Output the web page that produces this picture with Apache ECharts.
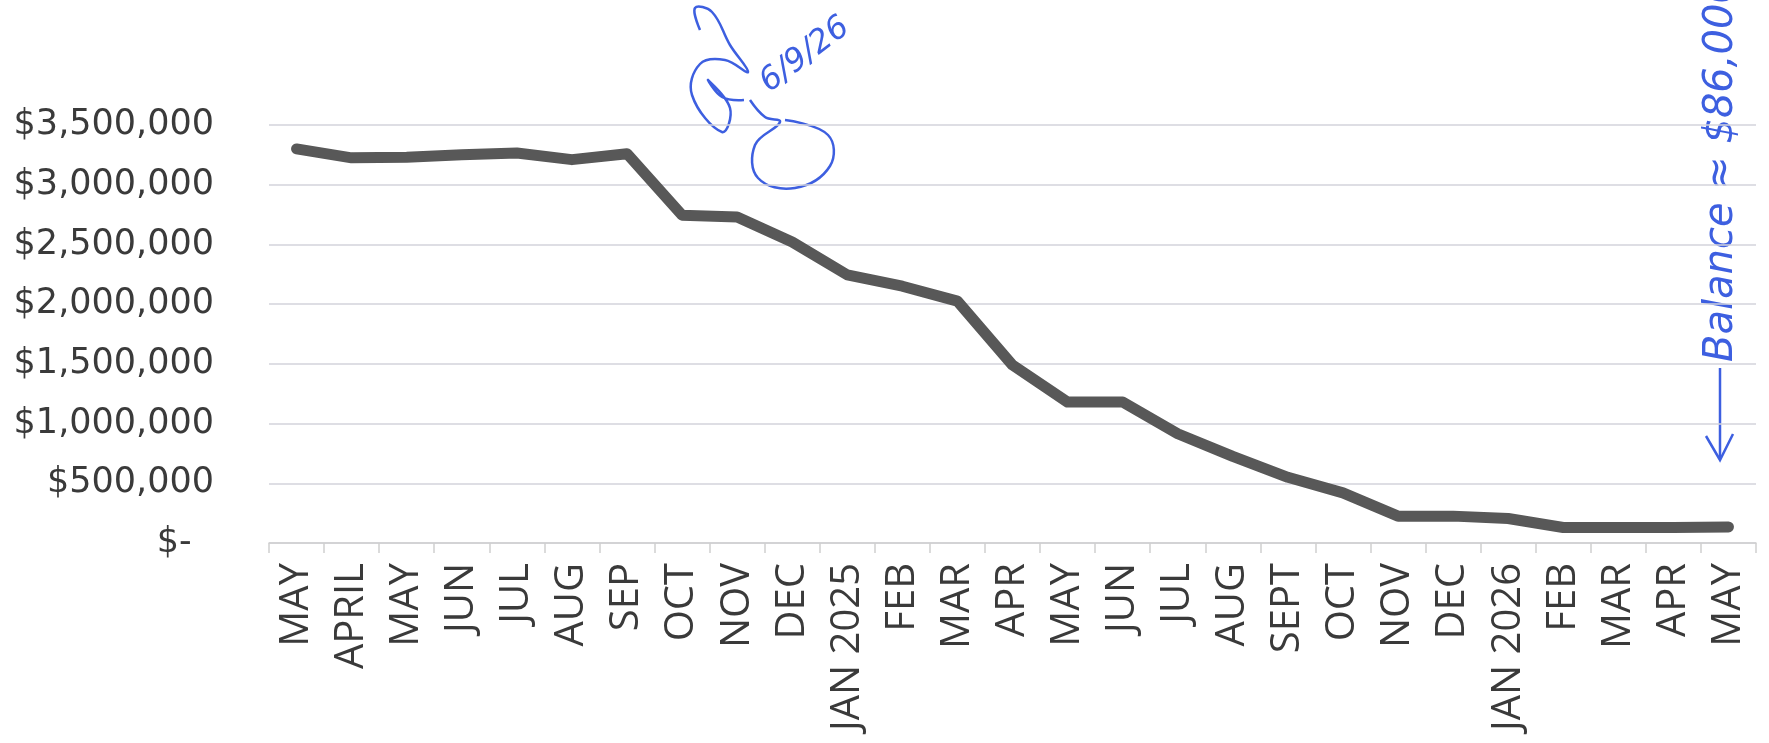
<!DOCTYPE html>
<html>
<head>
<meta charset="utf-8">
<script src="https://cdn.jsdelivr.net/npm/echarts@6/dist/echarts.min.js"></script>
<style>
  html, body { margin: 0; padding: 0; background: #ffffff; }
  #chart { width: 1769px; height: 743px; }
</style>
</head>
<body>
<div id="chart"></div>
<script>
// ---- data ----
const categories = ['MAY', 'APRIL', 'MAY', 'JUN', 'JUL', 'AUG', 'SEP', 'OCT', 'NOV', 'DEC',
  'JAN 2025', 'FEB', 'MAR', 'APR', 'MAY', 'JUN', 'JUL', 'AUG', 'SEPT', 'OCT', 'NOV', 'DEC',
  'JAN 2026', 'FEB', 'MAR', 'APR', 'MAY'];
const balance = [3300000, 3225000, 3230000, 3250000, 3265000, 3210000, 3260000, 2745000, 2730000,
  2520000, 2245000, 2150000, 2025000, 1490000, 1180000, 1180000, 915000, 725000, 550000, 420000,
  225000, 225000, 205000, 130000, 130000, 130000, 135000];
const yTicks = { min: 0, max: 3500000, step: 500000 };
const noteDate = '6/9/26';
const noteBalance = 'Balance ≈ $86,000';

const ink = '#3d5fe0';
const chart = echarts.init(document.getElementById('chart'));
chart.setOption({
  backgroundColor: '#ffffff',
  animation: false,
  grid: { left: 269, right: 13, top: 125, bottom: 200, containLabel: false },
  xAxis: {
    type: 'category',
    data: categories,
    boundaryGap: true,
    axisLine: { show: true, lineStyle: { color: '#d0d0d0', width: 1.5 } },
    axisTick: { show: true, length: 10, lineStyle: { color: '#d0d0d0', width: 1.5 } },
    axisLabel: {
      interval: 0, rotate: 90, margin: 20,
      fontFamily: 'Open Sans', fontSize: 40, color: '#3a3a3a'
    },
    splitLine: { show: false }
  },
  yAxis: {
    type: 'value',
    min: yTicks.min, max: yTicks.max, interval: yTicks.step,
    axisLine: { show: false },
    axisTick: { show: false },
    axisLabel: {
      margin: 55, fontFamily: 'DejaVu Sans', fontSize: 35, color: '#3a3a3a',
      formatter: v => v === 0 ? '$-  ' : '$' + v.toLocaleString('en-US')
    },
    splitLine: { show: true, lineStyle: { color: '#d3d3db', width: 1.5 } }
  },
  series: [{
    type: 'line',
    data: balance,
    symbol: 'none',
    smooth: false,
    lineStyle: { color: '#585858', width: 11, cap: 'round', join: 'round' }
  }],
  graphic: [
    {
      type: 'polyline',
      shape: { smooth: 0.4, points: [[700, 30], [695, 8], [712, 12], [730, 45], [748, 72], [725, 60], [700, 64], [692, 95], [722, 132], [730, 108], [708, 80], [722, 97], [744, 100]] },
      style: { stroke: ink, lineWidth: 2.5, fill: null }
    },
    {
      type: 'polyline',
      shape: { smooth: 0.4, points: [[750, 100], [765, 117], [780, 122], [755, 145], [758, 178], [795, 188], [830, 166], [828, 135], [785, 120]] },
      style: { stroke: ink, lineWidth: 2.5, fill: null }
    },
    {
      type: 'text',
      x: 805, y: 55,
      rotation: 0.65,
      style: { text: noteDate, fill: ink, fontFamily: 'DejaVu Sans', fontStyle: 'italic', fontSize: 32, align: 'center', verticalAlign: 'middle' }
    },
    {
      type: 'text',
      x: 1722, y: 362,
      rotation: Math.PI / 2,
      style: { text: noteBalance, fill: ink, fontFamily: 'DejaVu Sans', fontStyle: 'italic', fontSize: 40, align: 'left', verticalAlign: 'middle' }
    },
    {
      type: 'polyline',
      shape: { points: [[1720, 368], [1720, 458]] },
      style: { stroke: ink, lineWidth: 2.5, fill: null }
    },
    {
      type: 'polyline',
      shape: { points: [[1706, 436], [1720, 460], [1733, 434]] },
      style: { stroke: ink, lineWidth: 2.5, fill: null }
    }
  ]
});
</script>
</body>
</html>
